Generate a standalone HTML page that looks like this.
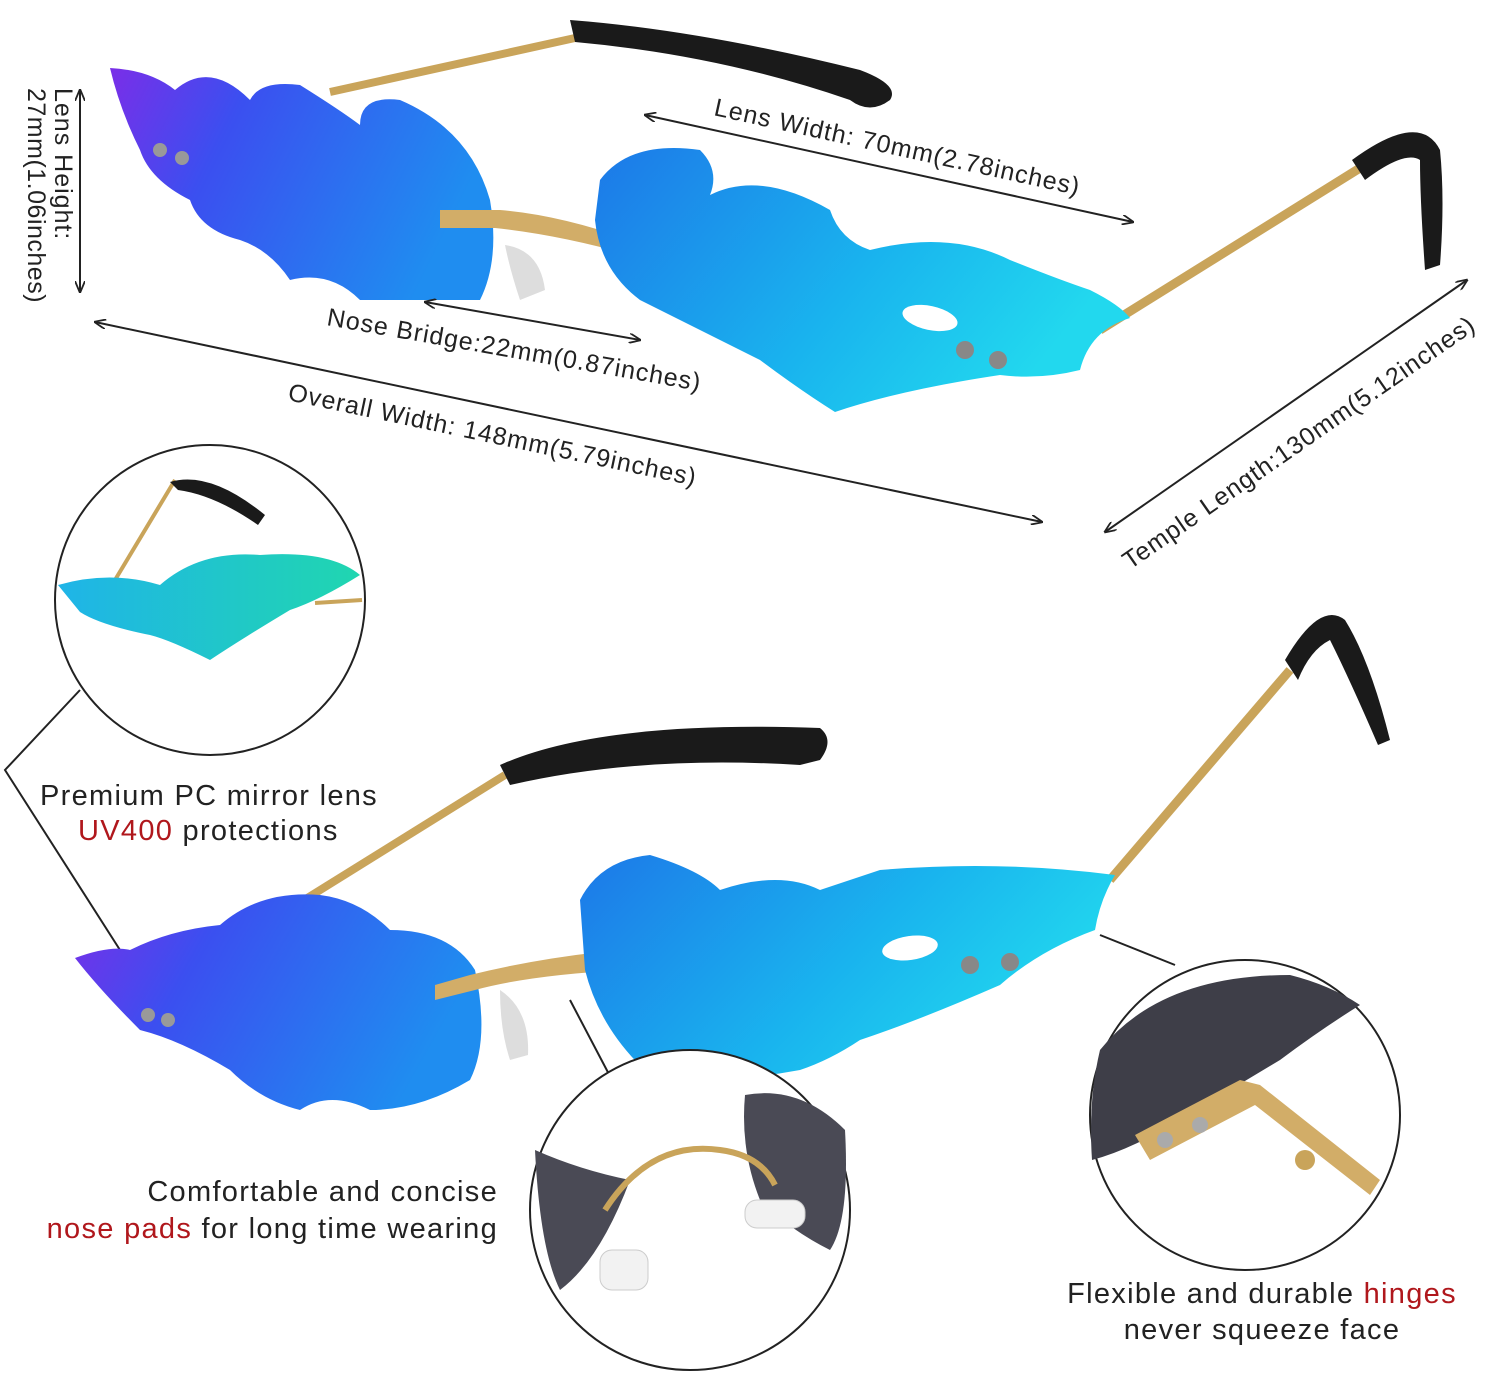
<!DOCTYPE html>
<html><head><meta charset="utf-8"><style>
html,body{margin:0;padding:0;background:#fff}
svg{display:block}
text{font-family:"Liberation Sans",sans-serif;fill:#222}
.d{font-size:25px;letter-spacing:1px}
.m{font-size:29px;letter-spacing:1.3px}
</style></head><body>
<svg width="1500" height="1379" viewBox="0 0 1500 1379" xmlns="http://www.w3.org/2000/svg">
<defs>
<linearGradient id="gl" x1="0" y1="0" x2="1" y2="0.3"><stop offset="0" stop-color="#7a2ee8"/><stop offset="0.35" stop-color="#3b4ff0"/><stop offset="1" stop-color="#1f8df0"/></linearGradient>
<linearGradient id="gr" x1="0" y1="0" x2="1" y2="0.4"><stop offset="0" stop-color="#1d78e8"/><stop offset="0.6" stop-color="#19b4ee"/><stop offset="1" stop-color="#22d8ee"/></linearGradient>
<linearGradient id="gc" x1="0" y1="0" x2="1" y2="0"><stop offset="0" stop-color="#1fb4e8"/><stop offset="1" stop-color="#20d6b0"/></linearGradient>
<marker id="ar" markerWidth="12" markerHeight="10" refX="11" refY="5" orient="auto-start-reverse" markerUnits="userSpaceOnUse"><path d="M0,0 L12,5 L0,10" fill="none" stroke="#222" stroke-width="1.8"/></marker>
</defs>
<rect width="1500" height="1379" fill="#fff"/>

<line x1="330" y1="92" x2="575" y2="38" stroke="#c9a45a" stroke-width="8"/>
<path d="M570,20 Q700,30 860,70 Q900,85 890,100 Q870,115 850,100 Q720,55 575,42 Z" fill="#1a1a1a"/>
<line x1="1100" y1="330" x2="1360" y2="168" stroke="#c9a45a" stroke-width="9"/>
<path d="M1352,160 Q1420,110 1440,150 Q1445,200 1440,265 L1425,270 Q1420,200 1420,160 Q1405,150 1365,180 Z" fill="#1a1a1a"/>
<path d="M110,68 Q150,70 175,90 Q210,60 250,100 Q260,80 300,85 Q340,110 360,125 Q360,95 400,100 Q470,130 490,200 Q500,260 480,300 L360,300 Q330,270 290,280 Q270,250 240,240 Q200,230 190,200 Q150,180 140,150 Q120,110 110,68 Z" fill="url(#gl)"/>
<path d="M440,210 L500,210 Q560,215 630,240 L630,255 Q560,235 495,228 L440,228 Z" fill="#d2ad68"/>
<path d="M505,245 Q540,250 545,290 L520,300 Q510,270 505,245 Z" fill="#ddd"/>
<path d="M600,180 Q630,140 700,150 Q720,170 710,195 Q760,170 830,210 Q840,240 870,250 Q950,230 1010,260 Q1060,280 1090,290 Q1120,305 1130,318 Q1090,330 1080,370 Q1040,380 1000,375 Q900,390 835,412 Q800,390 760,360 Q700,330 640,300 Q600,270 595,220 Z" fill="url(#gr)"/>
<ellipse cx="930" cy="318" rx="28" ry="12" fill="#fff" transform="rotate(12 930 318)"/>
<circle cx="965" cy="350" r="9" fill="#888"/><circle cx="998" cy="360" r="9" fill="#888"/>
<circle cx="160" cy="150" r="7" fill="#999"/><circle cx="182" cy="158" r="7" fill="#999"/>

<line x1="80" y1="90" x2="80" y2="292" stroke="#222" stroke-width="2" marker-start="url(#ar)" marker-end="url(#ar)"/>
<text class="d" transform="translate(55,88) rotate(90)">Lens Height:</text>
<text class="d" transform="translate(28,88) rotate(90)" style="letter-spacing:0.5px">27mm(1.06inches)</text>
<line x1="645" y1="115" x2="1133" y2="222" stroke="#222" stroke-width="2" marker-start="url(#ar)" marker-end="url(#ar)"/>
<text class="d" transform="translate(713,115) rotate(12.4)">Lens Width: 70mm(2.78inches)</text>
<line x1="425" y1="302" x2="640" y2="340" stroke="#222" stroke-width="2" marker-start="url(#ar)" marker-end="url(#ar)"/>
<text class="d" transform="translate(326,325) rotate(10)">Nose Bridge:22mm(0.87inches)</text>
<line x1="95" y1="322" x2="1042" y2="522" stroke="#222" stroke-width="2" marker-start="url(#ar)" marker-end="url(#ar)"/>
<text class="d" transform="translate(287,400) rotate(11.9)">Overall Width: 148mm(5.79inches)</text>
<line x1="1105" y1="532" x2="1467" y2="280" stroke="#222" stroke-width="2" marker-start="url(#ar)" marker-end="url(#ar)"/>
<text class="d" transform="translate(1130,570) rotate(-34.8)">Temple Length:130mm(5.12inches)</text>

<circle cx="210" cy="600" r="155" fill="#fff" stroke="#222" stroke-width="2"/>
<line x1="115" y1="580" x2="175" y2="480" stroke="#c9a45a" stroke-width="4"/>
<path d="M170,482 Q210,470 265,515 L258,525 Q215,495 178,490 Z" fill="#1a1a1a"/>
<path d="M58,585 Q110,570 160,585 Q200,550 260,555 Q330,550 360,575 Q320,600 290,610 Q240,640 210,660 Q170,640 150,635 Q100,625 80,612 Z" fill="url(#gc)"/>
<line x1="315" y1="603" x2="362" y2="600" stroke="#c9a45a" stroke-width="4"/>

<polyline points="80,690 5,770 120,950" fill="none" stroke="#222" stroke-width="2"/>
<text class="m" x="40" y="805">Premium PC mirror lens</text>
<text class="m" x="78" y="840"><tspan style="fill:#b0171c">UV400</tspan> protections</text>

<line x1="280" y1="915" x2="505" y2="775" stroke="#c9a45a" stroke-width="8"/>
<path d="M500,765 Q600,720 820,728 Q835,740 820,760 L800,765 Q640,755 510,785 Z" fill="#1a1a1a"/>
<line x1="1110" y1="880" x2="1290" y2="670" stroke="#c9a45a" stroke-width="9"/>
<path d="M1285,660 Q1320,600 1345,620 Q1370,660 1390,740 L1378,745 Q1350,680 1330,640 Q1310,650 1298,680 Z" fill="#1a1a1a"/>
<path d="M75,958 Q110,945 130,950 Q170,930 220,925 Q260,890 320,895 Q360,900 390,930 Q450,930 475,970 Q490,1040 470,1080 Q420,1110 370,1110 Q330,1090 300,1110 Q260,1100 230,1070 Q180,1040 140,1030 Q100,990 75,958 Z" fill="url(#gl)"/>
<path d="M435,985 L470,975 Q530,960 600,952 L625,958 L625,970 Q530,975 475,990 L435,1000 Z" fill="#d2ad68"/>
<path d="M500,990 Q530,1010 528,1055 L510,1060 Q500,1030 500,990 Z" fill="#ddd"/>
<path d="M580,900 Q600,860 650,855 Q700,870 720,890 Q780,870 820,890 Q850,880 880,870 Q1000,860 1115,875 Q1100,900 1095,930 Q1040,950 1000,985 Q920,1020 860,1040 Q830,1060 800,1070 Q720,1085 650,1075 Q600,1030 585,970 Z" fill="url(#gr)"/>
<ellipse cx="910" cy="948" rx="28" ry="12" fill="#fff" transform="rotate(-8 910 948)"/>
<circle cx="970" cy="965" r="9" fill="#888"/><circle cx="1010" cy="962" r="9" fill="#888"/>
<circle cx="148" cy="1015" r="7" fill="#999"/><circle cx="168" cy="1020" r="7" fill="#999"/>

<line x1="570" y1="1000" x2="612" y2="1080" stroke="#222" stroke-width="2"/>
<circle cx="690" cy="1210" r="160" fill="#fff" stroke="#222" stroke-width="2"/>
<path d="M535,1150 Q580,1170 630,1180 Q600,1260 560,1290 Q540,1250 535,1150 Z" fill="#4a4a55"/>
<path d="M745,1095 Q800,1085 845,1130 Q850,1220 830,1250 Q790,1230 760,1200 Q740,1150 745,1095 Z" fill="#4a4a55"/>
<path d="M605,1210 Q650,1140 720,1150 Q760,1155 775,1185" fill="none" stroke="#c9a45a" stroke-width="6"/>
<rect x="600" y="1250" width="48" height="40" rx="12" fill="#f2f2f2" stroke="#ccc"/>
<rect x="745" y="1200" width="60" height="28" rx="12" fill="#f2f2f2" stroke="#ccc"/>
<text class="m" x="498" y="1201" text-anchor="end">Comfortable and concise</text>
<text class="m" x="498" y="1238" text-anchor="end"><tspan style="fill:#b0171c">nose pads</tspan> for long time wearing</text>

<line x1="1100" y1="935" x2="1175" y2="965" stroke="#222" stroke-width="2"/>
<circle cx="1245" cy="1115" r="155" fill="#fff" stroke="#222" stroke-width="2"/>
<path d="M1100,1050 Q1160,975 1290,975 Q1330,985 1360,1005 Q1320,1030 1280,1060 Q1230,1090 1180,1120 Q1130,1150 1092,1160 Q1088,1100 1100,1050 Z" fill="#3e3e48"/>
<path d="M1135,1135 L1240,1080 L1260,1085 L1380,1180 L1370,1195 L1255,1105 L1150,1160 Z" fill="#d2ad68"/>
<circle cx="1165" cy="1140" r="8" fill="#aaa"/><circle cx="1200" cy="1125" r="8" fill="#aaa"/><circle cx="1305" cy="1160" r="10" fill="#c9a45a"/>
<text class="m" x="1262" y="1303" text-anchor="middle">Flexible and durable <tspan style="fill:#b0171c">hinges</tspan></text>
<text class="m" x="1262" y="1339" text-anchor="middle">never squeeze face</text>
</svg>
</body></html>
